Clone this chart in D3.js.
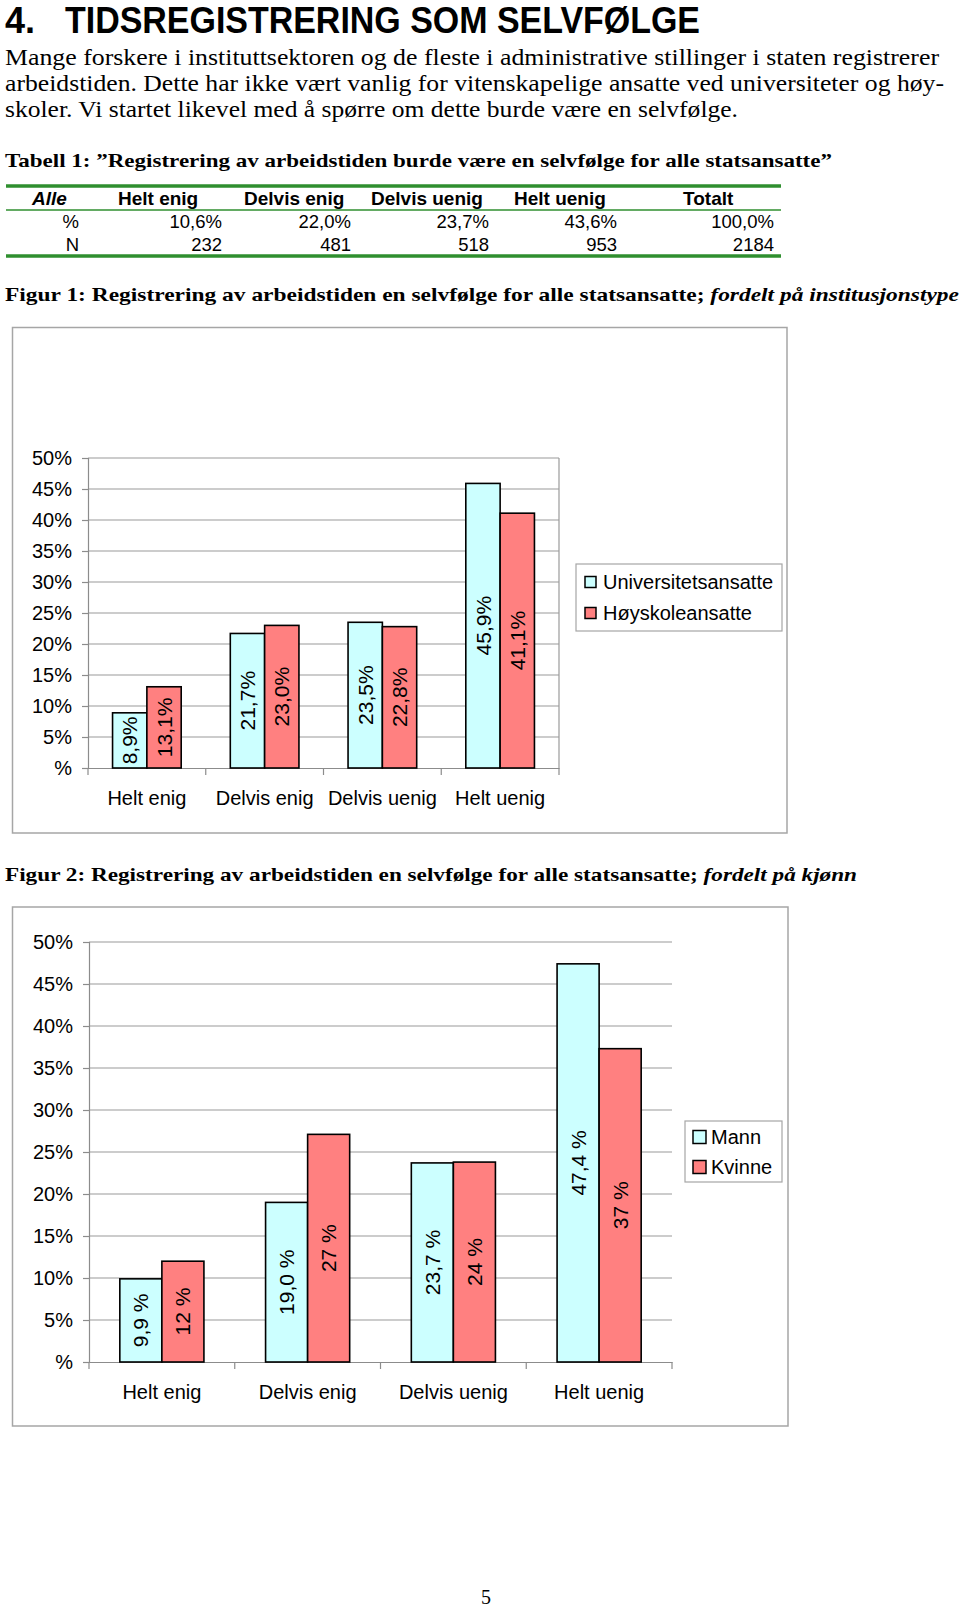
<!DOCTYPE html>
<html>
<head>
<meta charset="utf-8">
<script src="https://cdn.jsdelivr.net/npm/d3@7"></script>
<style>
  html, body { margin: 0; padding: 0; background: #fff; }
  svg { display: block; }
</style>
</head>
<body>
<svg id="page" width="960" height="1609"></svg>
<script>
// ---------- DATA ----------
const tableColumns = ["Helt enig", "Delvis enig", "Delvis uenig", "Helt uenig", "Totalt"];
const tablePercent = ["10,6%", "22,0%", "23,7%", "43,6%", "100,0%"];
const tableN = ["232", "481", "518", "953", "2184"];

const categories = ["Helt enig", "Delvis enig", "Delvis uenig", "Helt uenig"];

const fig1Series = ["Universitetsansatte", "Høyskoleansatte"];
const fig1Univ = [8.9, 21.7, 23.5, 45.9];
const fig1Hoy = [13.1, 23.0, 22.8, 41.1];

const fig2Series = ["Mann", "Kvinne"];
const fig2Mann = [9.9, 19.0, 23.7, 47.4];
const fig2Kvinne = [12.0, 27.1, 23.8, 37.3];

const yTicks = [0, 5, 10, 15, 20, 25, 30, 35, 40, 45, 50];
const yTickLabels = ["%", "5%", "10%", "15%", "20%", "25%", "30%", "35%", "40%", "45%", "50%"];

const seriesColors = ["#ccffff", "#ff8080"];

// ---------- PAGE TEXT ----------
const svg = d3.select("#page");
const SANS = "'Liberation Sans', Arial, sans-serif";
const SERIF = "'Liberation Serif', 'Times New Roman', serif";

svg.append("text").attr("x", 5).attr("y", 33)
  .attr("font-family", SANS).attr("font-weight", "bold").attr("font-size", 36)
  .text("4.");
svg.append("text").attr("x", 65).attr("y", 33)
  .attr("font-family", SANS).attr("font-weight", "bold").attr("font-size", 36)
  .attr("textLength", 635).attr("lengthAdjust", "spacingAndGlyphs")
  .text("TIDSREGISTRERING SOM SELVFØLGE");

const para = [
  ["Mange forskere i instituttsektoren og de fleste i administrative stillinger i staten registrerer", 934],
  ["arbeidstiden. Dette har ikke vært vanlig for vitenskapelige ansatte ved universiteter og høy-", 939],
  ["skoler. Vi startet likevel med å spørre om dette burde være en selvfølge.", 733]
];
para.forEach((p, i) => {
  svg.append("text").attr("x", 5).attr("y", 65 + i * 26.2)
    .attr("font-family", SERIF).attr("font-size", 23)
    .attr("textLength", p[1]).attr("lengthAdjust", "spacingAndGlyphs")
    .text(p[0]);
});

svg.append("text").attr("x", 5).attr("y", 167)
  .attr("font-family", SERIF).attr("font-weight", "bold").attr("font-size", 19)
  .attr("textLength", 827).attr("lengthAdjust", "spacingAndGlyphs")
  .text("Tabell 1:  \u201DRegistrering av arbeidstiden burde være en selvfølge for alle statsansatte\u201D");

// ---------- TABLE ----------
const green = "#2f8f2f";
const tLeft = 6, tRight = 781;
svg.append("line").attr("x1", tLeft).attr("x2", tRight).attr("y1", 186).attr("y2", 186)
  .attr("stroke", green).attr("stroke-width", 3.5);
svg.append("line").attr("x1", tLeft).attr("x2", tRight).attr("y1", 210).attr("y2", 210)
  .attr("stroke", green).attr("stroke-width", 1.5);
svg.append("line").attr("x1", tLeft).attr("x2", tRight).attr("y1", 256).attr("y2", 256)
  .attr("stroke", green).attr("stroke-width", 3.5);

const headerLeft = [118, 244, 371, 514, 683];
const valueRight = [222, 351, 489, 617, 774];
svg.append("text").attr("x", 32).attr("y", 205)
  .attr("font-family", SANS).attr("font-weight", "bold").attr("font-style", "italic")
  .attr("font-size", 19).text("Alle");
svg.selectAll("text.th").data(tableColumns).enter().append("text")
  .attr("class", "th").attr("x", (d, i) => headerLeft[i]).attr("y", 205)
  .attr("font-family", SANS).attr("font-weight", "bold").attr("font-size", 19)
  .text(d => d);
[["%", tablePercent, 228], ["N", tableN, 251]].forEach(([lab, vals, y]) => {
  svg.append("text").attr("x", 79).attr("y", y).attr("text-anchor", "end")
    .attr("font-family", SANS).attr("font-size", 18.5).text(lab);
  vals.forEach((v, i) => {
    svg.append("text").attr("x", valueRight[i]).attr("y", y).attr("text-anchor", "end")
      .attr("font-family", SANS).attr("font-size", 18.5).text(v);
  });
});

// ---------- FIGURE TITLES ----------
function figTitle(y, main, italic, len) {
  const t = svg.append("text").attr("x", 5).attr("y", y)
    .attr("font-family", SERIF).attr("font-weight", "bold").attr("font-size", 19)
    .attr("textLength", len).attr("lengthAdjust", "spacingAndGlyphs");
  t.append("tspan").text(main);
  t.append("tspan").attr("font-style", "italic").text(italic);
}
figTitle(301, "Figur 1: Registrering av arbeidstiden en selvfølge for alle statsansatte; ", "fordelt på institusjonstype", 954);
figTitle(881, "Figur 2: Registrering av arbeidstiden en selvfølge for alle statsansatte; ", "fordelt på kjønn", 852);

// ---------- CHART FUNCTION ----------
function drawChart(cfg) {
  const g = svg.append("g");
  g.append("rect").attr("x", cfg.box[0]).attr("y", cfg.box[1])
    .attr("width", cfg.box[2] - cfg.box[0]).attr("height", cfg.box[3] - cfg.box[1])
    .attr("fill", "#fff").attr("stroke", "#a6a6a6").attr("stroke-width", 1.5);

  const y = d3.scaleLinear().domain([0, 50]).range([cfg.y0, cfg.y50]);
  const x = d3.scaleBand().domain(categories).range([cfg.xL, cfg.xR]).padding(0);
  const groupW = x.bandwidth() * cfg.groupFrac;
  const x1 = d3.scaleBand().domain(cfg.series).range([0, groupW]).padding(0);

  g.selectAll("line.grid").data(yTicks.filter(d => d > 0)).enter().append("line")
    .attr("x1", cfg.xL).attr("x2", cfg.xR)
    .attr("y1", d => y(d)).attr("y2", d => y(d))
    .attr("stroke", "#9a9a9a").attr("stroke-width", 1.2);
  if (cfg.rightBorder) {
    g.append("line").attr("x1", cfg.xR).attr("x2", cfg.xR).attr("y1", y(50)).attr("y2", y(0))
      .attr("stroke", "#9a9a9a").attr("stroke-width", 1.2);
  }

  const yAxis = d3.axisLeft(y).tickValues(yTicks).tickSize(6)
    .tickFormat((d, i) => yTickLabels[i]);
  const ya = g.append("g").attr("transform", `translate(${cfg.xL},0)`).call(yAxis);
  ya.select(".domain").attr("stroke", "#8c8c8c").attr("stroke-width", 1.2);
  ya.selectAll(".tick line").attr("stroke", "#8c8c8c").attr("stroke-width", 1.2);
  ya.selectAll(".tick text").attr("font-family", SANS).attr("font-size", 20)
    .attr("fill", "#000").attr("x", cfg.labelRight - cfg.xL);

  const xAxis = d3.axisBottom(x).tickSize(0).tickFormat("");
  const xa = g.append("g").attr("transform", `translate(0,${cfg.y0})`).call(xAxis);
  xa.select(".domain").attr("stroke", "#8c8c8c").attr("stroke-width", 1.2);
  xa.selectAll(".tick").remove();
  const bounds = categories.map(c => x(c)).concat([cfg.xR]);
  g.selectAll("line.xt").data(bounds).enter().append("line")
    .attr("x1", d => d).attr("x2", d => d).attr("y1", cfg.y0).attr("y2", cfg.y0 + 7)
    .attr("stroke", "#8c8c8c").attr("stroke-width", 1.2);
  g.selectAll("text.cat").data(categories).enter().append("text")
    .attr("x", d => x(d) + x.bandwidth() / 2).attr("y", cfg.catY)
    .attr("text-anchor", "middle").attr("font-family", SANS).attr("font-size", 20)
    .text(d => d);

  cfg.series.forEach((s, si) => {
    const vals = cfg.values[si];
    const bx = i => x(categories[i]) + (x.bandwidth() - groupW) / 2 + x1(s);
    g.selectAll(null).data(vals).enter().append("rect")
      .attr("x", (d, i) => bx(i)).attr("y", d => y(d))
      .attr("width", x1.bandwidth()).attr("height", d => y(0) - y(d))
      .attr("fill", seriesColors[si]).attr("stroke", "#000").attr("stroke-width", 1.6);
    g.selectAll(null).data(vals).enter().append("text")
      .attr("transform", (d, i) => `translate(${bx(i) + x1.bandwidth() / 2},${(y(d) + y(0)) / 2}) rotate(-90)`)
      .attr("text-anchor", "middle").attr("dy", "0.36em")
      .attr("font-family", SANS).attr("font-size", 21)
      .text(d => cfg.fmt[si](d));
  });

  const L = cfg.legend;
  g.append("rect").attr("x", L.x).attr("y", L.y).attr("width", L.w).attr("height", L.h)
    .attr("fill", "#fff").attr("stroke", "#a6a6a6").attr("stroke-width", 1.2);
  cfg.series.forEach((s, si) => {
    const cy = L.rows[si];
    g.append("rect").attr("x", L.sx).attr("y", cy - L.ss / 2).attr("width", L.ss).attr("height", L.ss)
      .attr("fill", seriesColors[si]).attr("stroke", "#000").attr("stroke-width", 1.5);
    g.append("text").attr("x", L.tx).attr("y", cy).attr("dy", "0.36em")
      .attr("font-family", SANS).attr("font-size", 20).text(s);
  });
}

const comma1 = v => d3.format(".1f")(v).replace(".", ",");

drawChart({
  box: [12.5, 327.5, 787, 833],
  y0: 768, y50: 458,
  xL: 88, xR: 559,
  groupFrac: 0.583,
  labelRight: 72,
  catY: 805,
  rightBorder: true,
  series: fig1Series,
  values: [fig1Univ, fig1Hoy],
  fmt: [v => comma1(v) + "%", v => comma1(v) + "%"],
  legend: { x: 576, y: 564, w: 206, h: 67, sx: 585, ss: 11, tx: 603, rows: [582, 613] }
});

drawChart({
  box: [12.5, 907, 788, 1426],
  y0: 1362, y50: 942,
  xL: 89, xR: 672,
  groupFrac: 0.577,
  labelRight: 73,
  catY: 1399,
  rightBorder: false,
  series: fig2Series,
  values: [fig2Mann, fig2Kvinne],
  fmt: [v => comma1(v) + " %", v => Math.round(v) + " %"],
  legend: { x: 685, y: 1121, w: 97, h: 61, sx: 693, ss: 13, tx: 711, rows: [1137, 1167] }
});

svg.append("text").attr("x", 486).attr("y", 1604).attr("text-anchor", "middle")
  .attr("font-family", SERIF).attr("font-size", 20).text("5");
</script>
</body>
</html>
